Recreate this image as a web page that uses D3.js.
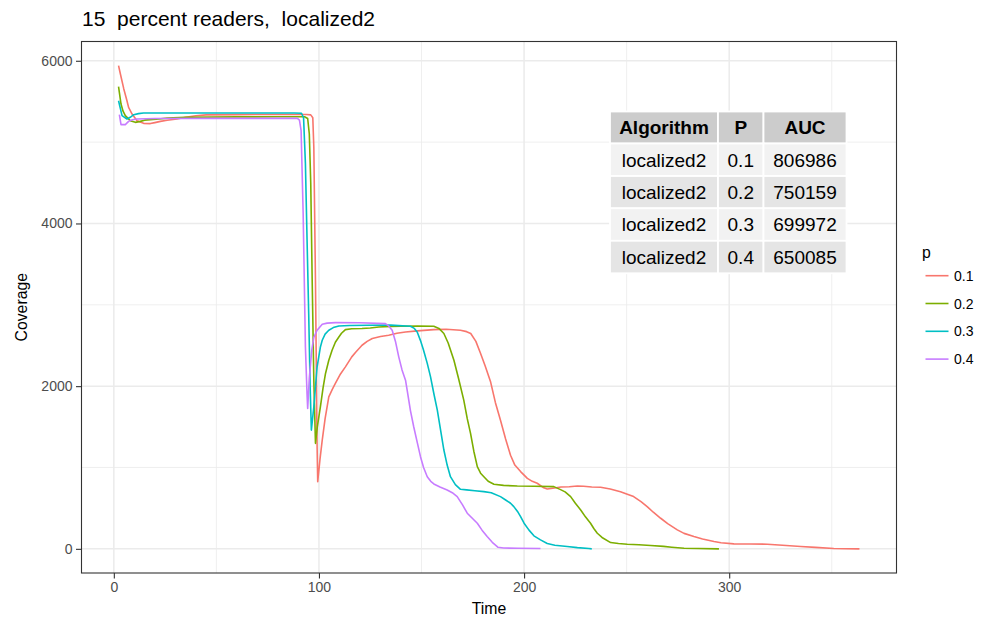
<!DOCTYPE html>
<html>
<head>
<meta charset="utf-8">
<script src="https://cdn.jsdelivr.net/npm/d3@7"></script>
<style>
  body { margin: 0; background: #fff; }
  svg { font-family: "Liberation Sans", Arial, sans-serif; }
</style>
</head>
<body>
<svg width="987" height="617"></svg>
<script>
const svg = d3.select("svg");
const width = +svg.attr("width");
const height = +svg.attr("height");

// datos: [tiempo, cobertura]
const p01 = [[2.3,5940],[3.2,5837],[4.8,5660],[6.4,5509],[7.2,5427],[8.9,5345],[11.3,5264],[14.5,5231],[17.8,5228],[20,5240],[22.7,5255],[26,5268],[30.8,5284],[35,5305],[40,5325],[45,5335],[60,5338],[80,5340],[94,5340],[96,5335],[97,5300],[97.5,4936],[98.3,3300],[99.1,1255],[99.4,826],[100.5,1100],[101.6,1337],[103,1600],[104.8,1869],[106.5,1960],[108,2033],[110.5,2150],[112.9,2237],[116,2360],[118,2420],[121,2503],[123.5,2550],[126,2585],[130,2610],[134,2626],[138,2650],[142.2,2666],[148,2680],[156,2695],[162,2700],[169,2687],[172,2670],[174,2647],[176.5,2550],[178.8,2401],[181,2250],[183.7,2050],[186,1800],[188.5,1580],[191,1350],[193.4,1150],[195.5,1030],[198.3,950],[201.6,867],[204,830],[206.4,806],[209.6,750],[211.3,735],[214,745],[218,760],[222,764],[226,773],[229,770],[233,760],[237.3,757],[242,735],[247,703],[250,675],[253.4,642],[257,580],[260,519],[263,450],[266.6,376],[270,310],[274.7,233],[278,190],[282.8,151],[287,120],[292.6,90],[296,75],[302.3,61],[310,60],[318.6,57],[326,45],[334.9,28],[342,18],[351,5],[357,2],[363.5,0]];
const p02 = [[2.3,5681],[3.5,5468],[4.5,5380],[5.6,5325],[8,5264],[10.5,5243],[12.9,5255],[15,5270],[17.8,5276],[22,5285],[26,5295],[35,5305],[60,5310],[80,5312],[93,5312],[94.5,5290],[95.3,5100],[96,4500],[96.7,3300],[97.5,2074],[98.3,1297],[99.2,1500],[100.7,1746],[102,1980],[103.2,2156],[104.8,2319],[106.4,2442],[108,2540],[109.7,2605],[111,2650],[112.9,2695],[116,2705],[121,2708],[125,2715],[129.2,2728],[135,2735],[140,2736],[148,2740],[156,2736],[158.5,2710],[160.9,2647],[163,2530],[165.8,2319],[168,2100],[170.6,1828],[172.3,1600],[173.9,1420],[175.5,1200],[177.2,1010],[178.8,930],[180.4,887],[182.5,830],[185.3,794],[190,780],[196.7,773],[205,770],[214.5,765],[217.8,728],[220,700],[222.7,642],[225,560],[227.6,478],[230,390],[232.4,315],[234,250],[235.7,192],[238,140],[242.2,77],[246,65],[250.3,57],[256,50],[261.7,41],[268,30],[272,20],[278,8],[285,4],[295,0]];
const p03 = [[2.3,5509],[4,5325],[6.4,5284],[8,5305],[9.7,5337],[12,5350],[14.5,5358],[30,5358],[60,5358],[88,5358],[91.5,5355],[92.5,5300],[93.4,4736],[94.2,3800],[95,2892],[95.7,2000],[96.3,1460],[97.5,1746],[99.1,2237],[100.7,2480],[101.6,2564],[103,2640],[104.8,2687],[107,2720],[109.7,2740],[115,2745],[123.5,2749],[135,2750],[144.6,2736],[146.5,2710],[147.9,2666],[149.5,2560],[151,2442],[152.8,2280],[154.4,2114],[156,1910],[157.7,1706],[159.3,1460],[160.9,1215],[162.5,1030],[164.1,887],[166.5,790],[169,732],[172,725],[176,715],[180.4,703],[184,690],[188.5,642],[191,600],[193.4,561],[195,519],[196.8,460],[198.3,396],[200,315],[202.4,230],[204.8,160],[208,110],[211.3,65],[215,45],[221,28],[226,15],[231.6,4],[233,0]];
const p04 = [[2.7,5337],[3.5,5215],[5.6,5215],[7.2,5255],[9,5275],[11.3,5284],[20,5290],[50,5292],[89.5,5292],[90.5,5270],[91.3,5141],[92.3,4123],[93.4,2482],[94.2,1900],[94.5,1726],[95.3,2100],[96.5,2442],[97.5,2600],[99.1,2687],[101.6,2760],[104,2775],[108,2781],[120,2780],[132.4,2769],[134,2740],[135.7,2687],[137.3,2550],[138.9,2360],[140.5,2200],[142.2,2074],[143,1951],[144.6,1700],[146.2,1501],[148,1300],[149.5,1133],[151,1000],[152.8,887],[154.5,830],[156,798],[159,760],[162.5,724],[165,690],[167.4,642],[170,540],[172.3,438],[175,370],[177.2,315],[179.5,230],[182,151],[184.5,80],[187.2,20],[190,10],[196.7,8],[208,4]];

const series = [p01, p02, p03, p04];
const legendLabels = ["0.1", "0.2", "0.3", "0.4"];
const colores = ["#F8766D", "#7CAE00", "#00BFC4", "#C77CFF"];

const xTicks = [0, 100, 200, 300];
const xMinor = [50, 150, 250, 350];
const yTicks = [0, 2000, 4000, 6000];
const yMinor = [1000, 3000, 5000];

// tabla
const tablaHeader = ["Algorithm", "P", "AUC"];
const tablaAlgoritmo = ["localized2", "localized2", "localized2", "localized2"];
const tablaP = ["0.1", "0.2", "0.3", "0.4"];
const tablaAUC = ["806986", "750159", "699972", "650085"];

const margin = {top: 41.5, right: 90.5, bottom: 44, left: 81.5};
const pw = width - margin.left - margin.right;
const ph = height - margin.top - margin.bottom;

// expansión 5% como ggplot
const todos = series.flat();
const xExt = d3.extent(todos, d => d[0]);
const yExt = d3.extent(todos, d => d[1]);
const xPad = (xExt[1] - xExt[0]) * 0.05;
const yPad = (yExt[1] - yExt[0]) * 0.05;

const x = d3.scaleLinear().domain([xExt[0] - xPad, xExt[1] + xPad]).range([0, pw]);
const y = d3.scaleLinear().domain([yExt[0] - yPad, yExt[1] + yPad]).range([ph, 0]);

const g = svg.append("g").attr("transform", `translate(${margin.left},${margin.top})`);

// rejilla
g.selectAll("line.xminor").data(xMinor).enter().append("line")
    .attr("x1", d => x(d)).attr("x2", d => x(d)).attr("y1", 0).attr("y2", ph)
    .style("stroke", "#EBEBEB").style("stroke-width", 0.8);
g.selectAll("line.yminor").data(yMinor).enter().append("line")
    .attr("x1", 0).attr("x2", pw).attr("y1", d => y(d)).attr("y2", d => y(d))
    .style("stroke", "#EBEBEB").style("stroke-width", 0.8);
g.selectAll("line.xmajor").data(xTicks).enter().append("line")
    .attr("x1", d => x(d)).attr("x2", d => x(d)).attr("y1", 0).attr("y2", ph)
    .style("stroke", "#EBEBEB").style("stroke-width", 1.5);
g.selectAll("line.ymajor").data(yTicks).enter().append("line")
    .attr("x1", 0).attr("x2", pw).attr("y1", d => y(d)).attr("y2", d => y(d))
    .style("stroke", "#EBEBEB").style("stroke-width", 1.5);

// líneas
const linea = d3.line().x(d => x(d[0])).y(d => y(d[1]));
g.selectAll("path.serie").data(series).enter().append("path")
    .attr("class", "serie")
    .attr("d", linea)
    .style("fill", "none")
    .style("stroke", (d, i) => colores[i])
    .style("stroke-width", 1.6)
    .style("stroke-linejoin", "round");

// tabla
const colX = [610, 718, 763.5, 846.5];
const filaY = [111.5, 143.5, 176, 208.3, 240.8, 273.3];
const filas = [tablaHeader].concat(tablaAlgoritmo.map((a, i) => [a, tablaP[i], tablaAUC[i]]));
const rellenos = ["#CCCCCC", "#F2F2F2", "#E5E5E5", "#F2F2F2", "#E5E5E5"];
const tabla = svg.append("g");
filas.forEach((fila, r) => {
    fila.forEach((txt, c) => {
        tabla.append("rect")
            .attr("x", colX[c]).attr("y", filaY[r])
            .attr("width", colX[c + 1] - colX[c]).attr("height", filaY[r + 1] - filaY[r])
            .style("fill", rellenos[r]).style("stroke", "#fff").style("stroke-width", 1.8);
        tabla.append("text")
            .attr("x", (colX[c] + colX[c + 1]) / 2)
            .attr("y", (filaY[r] + filaY[r + 1]) / 2 + 6.8)
            .attr("text-anchor", "middle")
            .style("font-size", "19px")
            .style("font-weight", r === 0 ? "bold" : "normal")
            .style("fill", "#000")
            .text(txt);
    });
});

// borde del panel
g.append("rect").attr("width", pw).attr("height", ph)
    .style("fill", "none").style("stroke", "#333333").style("stroke-width", 1.1);

// ejes
const xAxis = g.append("g").attr("transform", `translate(0,${ph})`)
    .call(d3.axisBottom(x).tickValues(xTicks).tickSize(5.5).tickPadding(3.5));
const yAxis = g.append("g")
    .call(d3.axisLeft(y).tickValues(yTicks).tickSize(5.5).tickPadding(3.5).tickFormat(d3.format("d")));
[xAxis, yAxis].forEach(a => {
    a.select(".domain").remove();
    a.selectAll(".tick line").style("stroke", "#333333").style("stroke-width", 1.1);
    a.selectAll(".tick text").style("fill", "#4D4D4D").style("font-size", "14px")
        .style("font-family", "Liberation Sans, Arial, sans-serif");
});

// títulos
svg.append("text").attr("x", 82).attr("y", 26)
    .style("font-size", "21px").style("fill", "#000").style("white-space", "pre")
    .text("15  percent readers,  localized2");
svg.append("text").attr("x", margin.left + pw / 2).attr("y", 614)
    .attr("text-anchor", "middle").style("font-size", "15.8px").text("Time");
svg.append("text")
    .attr("transform", `translate(26.5,${margin.top + ph / 2}) rotate(-90)`)
    .attr("text-anchor", "middle").style("font-size", "15.8px").text("Coverage");

// leyenda
const ley = svg.append("g");
ley.append("text").attr("x", 922).attr("y", 258).style("font-size", "15.8px").text("p");
legendLabels.forEach((lab, i) => {
    const yy = 275.7 + i * 27.8;
    ley.append("line").attr("x1", 925.5).attr("x2", 948.5).attr("y1", yy).attr("y2", yy)
        .style("stroke", colores[i]).style("stroke-width", 1.6);
    ley.append("text").attr("x", 954).attr("y", yy + 5).style("font-size", "14px")
        .style("fill", "#000").text(lab);
});
</script>
</body>
</html>
